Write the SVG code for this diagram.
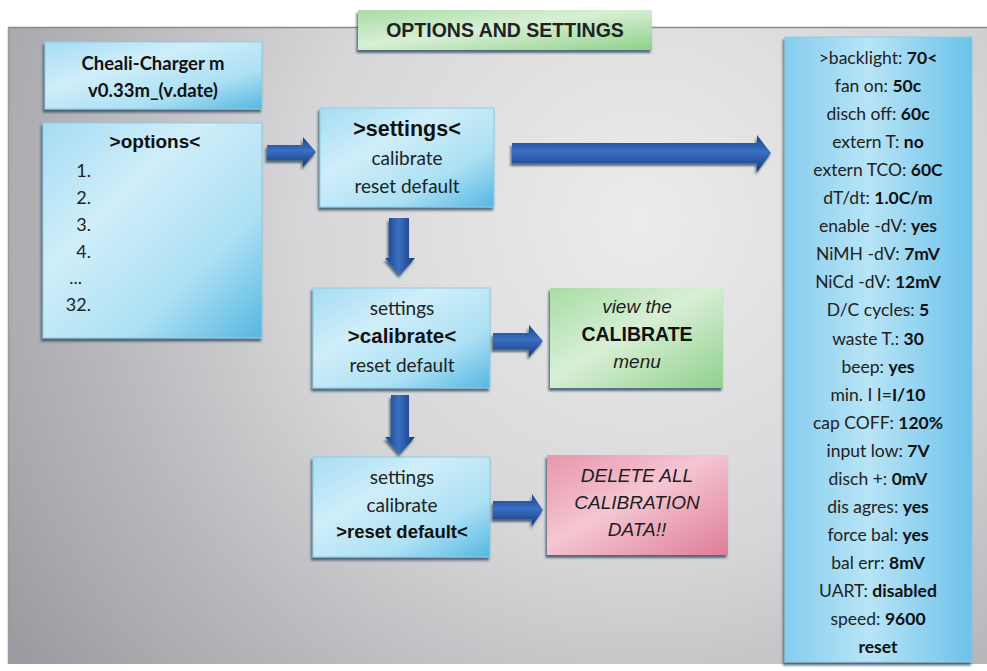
<svg xmlns="http://www.w3.org/2000/svg" width="987" height="671" viewBox="0 0 987 671">
<defs>
<radialGradient id="bg" cx="640" cy="220" r="760" gradientUnits="userSpaceOnUse">
<stop offset="0" stop-color="#ececec"/>
<stop offset="0.45" stop-color="#d6d6d8"/>
<stop offset="1" stop-color="#9a9aa0"/>
</radialGradient>
<linearGradient id="blue" x1="0" y1="0" x2="1" y2="1">
<stop offset="0" stop-color="#a6dcf3"/>
<stop offset="0.35" stop-color="#cfeef9"/>
<stop offset="0.7" stop-color="#ace0f4"/>
<stop offset="1" stop-color="#55b7e2"/>
</linearGradient>
<linearGradient id="blueTall" x1="0" y1="0" x2="1" y2="0">
<stop offset="0" stop-color="#86cdee"/>
<stop offset="0.45" stop-color="#b8e4f6"/>
<stop offset="1" stop-color="#6cc2ea"/>
</linearGradient>
<linearGradient id="green" x1="0" y1="0" x2="1" y2="1">
<stop offset="0" stop-color="#a8dca4"/>
<stop offset="0.45" stop-color="#d8efd6"/>
<stop offset="1" stop-color="#8fd18b"/>
</linearGradient>
<linearGradient id="red" x1="0" y1="0" x2="1" y2="1">
<stop offset="0" stop-color="#e995ab"/>
<stop offset="0.45" stop-color="#f4c6d3"/>
<stop offset="1" stop-color="#e07d97"/>
</linearGradient>
<linearGradient id="arrH" x1="0" y1="0" x2="0" y2="1">
<stop offset="0" stop-color="#17418a"/>
<stop offset="0.45" stop-color="#3a6fc2"/>
<stop offset="1" stop-color="#153a7c"/>
</linearGradient>
<linearGradient id="arrV" x1="0" y1="0" x2="1" y2="0">
<stop offset="0" stop-color="#17418a"/>
<stop offset="0.45" stop-color="#3a6fc2"/>
<stop offset="1" stop-color="#153a7c"/>
</linearGradient>
<filter id="sh" x="-10%" y="-10%" width="120%" height="125%">
<feDropShadow dx="-1.5" dy="3" stdDeviation="1.3" flood-color="#1f3d55" flood-opacity="0.7"/>
</filter>
</defs>
<style>
.box{filter:url(#sh);stroke:#8fcbe6;stroke-width:1}
.cal{font-family:Lato,"Open Sans","Liberation Sans",sans-serif;fill:#222;text-anchor:middle}
.ar{font-family:"Liberation Sans",Arial,sans-serif;fill:#1e1e1e;text-anchor:middle}
.b{font-weight:bold;fill:#111}
.it{font-style:italic}
.rl{font-size:17.5px}
</style>
<rect x="0" y="0" width="987" height="671" fill="#ffffff"/>
<rect x="8" y="27" width="979" height="637" fill="url(#bg)"/>
<line x1="8" y1="27.5" x2="987" y2="27.5" stroke="#8a8a8a" stroke-width="1.5"/>
<line x1="8.5" y1="27" x2="8.5" y2="664" stroke="#9a9a9a" stroke-width="1.5"/>

<g id="title">
<rect x="358" y="10" width="294" height="40" fill="url(#green)" filter="url(#sh)"/>
<text x="505" y="37" class="ar b" font-size="19.5" style="fill:#222">OPTIONS AND SETTINGS</text>
</g>

<g id="cheali">
<rect class="box" x="45" y="42" width="217" height="67" fill="url(#blue)"/>
<text class="cal b" font-size="18.5" x="153" y="70">Cheali-Charger m</text>
<text class="cal b" font-size="18.5" x="153" y="97">v0.33m_(v.date)</text>
</g>

<g id="options">
<rect class="box" x="43" y="123" width="219" height="215" fill="url(#blue)"/>
<text class="ar b" font-size="19" x="155" y="148">&gt;options&lt;</text>
<g class="cal" font-size="18">
<text x="91" y="177" style="text-anchor:end">1.</text>
<text x="91" y="204" style="text-anchor:end">2.</text>
<text x="91" y="231" style="text-anchor:end">3.</text>
<text x="91" y="258" style="text-anchor:end">4.</text>
<text x="82" y="284" style="text-anchor:end">...</text>
<text x="91" y="311" style="text-anchor:end">32.</text>
</g>
</g>

<g id="settings1">
<rect class="box" x="320" y="108" width="174" height="99" fill="url(#blue)"/>
<text class="ar b" font-size="21.5" x="407" y="136">&gt;settings&lt;</text>
<text class="cal" font-size="19" x="407" y="165">calibrate</text>
<text class="cal" font-size="19" x="407" y="193">reset default</text>
</g>

<g id="settings2">
<rect class="box" x="313" y="288" width="177" height="100" fill="url(#blue)"/>
<text class="cal" font-size="19" x="402" y="315">settings</text>
<text class="ar b" font-size="20.5" x="402" y="343">&gt;calibrate&lt;</text>
<text class="cal" font-size="19" x="402" y="372">reset default</text>
</g>

<g id="settings3">
<rect class="box" x="313" y="457" width="177" height="100" fill="url(#blue)"/>
<text class="cal" font-size="19" x="402" y="484">settings</text>
<text class="cal" font-size="19" x="402" y="512">calibrate</text>
<text class="ar b" font-size="18.5" x="402" y="538">&gt;reset default&lt;</text>
</g>

<g id="viewCalibrate">
<rect x="550" y="288" width="173" height="100" fill="url(#green)" filter="url(#sh)"/>
<text class="ar it" font-size="19" x="637" y="313">view the</text>
<text class="ar b" font-size="19.5" x="637" y="341">CALIBRATE</text>
<text class="ar it" font-size="19" x="637" y="368">menu</text>
</g>

<g id="deleteAll">
<rect x="547" y="455" width="181" height="100" fill="url(#red)" filter="url(#sh)"/>
<text class="ar it" font-size="19" x="637" y="482">DELETE ALL</text>
<text class="ar it" font-size="19" x="637" y="509">CALIBRATION</text>
<text class="ar it" font-size="19" x="637" y="536">DATA!!</text>
</g>

<g id="settingsList">
<rect class="box" x="785" y="37" width="187" height="625" fill="url(#blueTall)"/>
<g class="cal rl">
<text x="878" y="64">&gt;backlight: <tspan class="b">70&lt;</tspan></text>
<text x="878" y="92">fan on: <tspan class="b">50c</tspan></text>
<text x="878" y="120">disch off: <tspan class="b">60c</tspan></text>
<text x="878" y="148">extern T: <tspan class="b">no</tspan></text>
<text x="878" y="176">extern TCO: <tspan class="b">60C</tspan></text>
<text x="878" y="204">dT/dt: <tspan class="b">1.0C/m</tspan></text>
<text x="878" y="232">enable -dV: <tspan class="b">yes</tspan></text>
<text x="878" y="260">NiMH -dV: <tspan class="b">7mV</tspan></text>
<text x="878" y="288">NiCd -dV: <tspan class="b">12mV</tspan></text>
<text x="878" y="316">D/C cycles: <tspan class="b">5</tspan></text>
<text x="878" y="345">waste T.: <tspan class="b">30</tspan></text>
<text x="878" y="373">beep: <tspan class="b">yes</tspan></text>
<text x="878" y="401">min. I I=<tspan class="b">I/10</tspan></text>
<text x="878" y="429">cap COFF: <tspan class="b">120%</tspan></text>
<text x="878" y="457">input  low: <tspan class="b">7V</tspan></text>
<text x="878" y="485">disch +: <tspan class="b">0mV</tspan></text>
<text x="878" y="513">dis agres: <tspan class="b">yes</tspan></text>
<text x="878" y="541">force bal: <tspan class="b">yes</tspan></text>
<text x="878" y="569">bal err: <tspan class="b">8mV</tspan></text>
<text x="878" y="597">UART: <tspan class="b">disabled</tspan></text>
<text x="878" y="625">speed: <tspan class="b">9600</tspan></text>
<text x="878" y="653" class="b">reset</text>
</g>
</g>

<g id="connectors" filter="url(#sh)">
<polygon fill="url(#arrH)" points="267,145 303,145 303,137 316,152 303,167 303,160 267,160"/>
<polygon fill="url(#arrH)" points="512,143 757,143 757,135 771,153 757,172 757,163 512,163"/>
<polygon fill="url(#arrV)" points="389,218 409,218 409,258 415,258 400,275 385,258 389,258"/>
<polygon fill="url(#arrH)" points="493,333 529,333 529,325 543,341 529,357 529,349 493,349"/>
<polygon fill="url(#arrV)" points="391,395 409,395 409,437 415,437 400,454 385,437 391,437"/>
<polygon fill="url(#arrH)" points="493,501 532,501 532,494 543,510 532,526 532,519 493,519"/>
</g>
</svg>
